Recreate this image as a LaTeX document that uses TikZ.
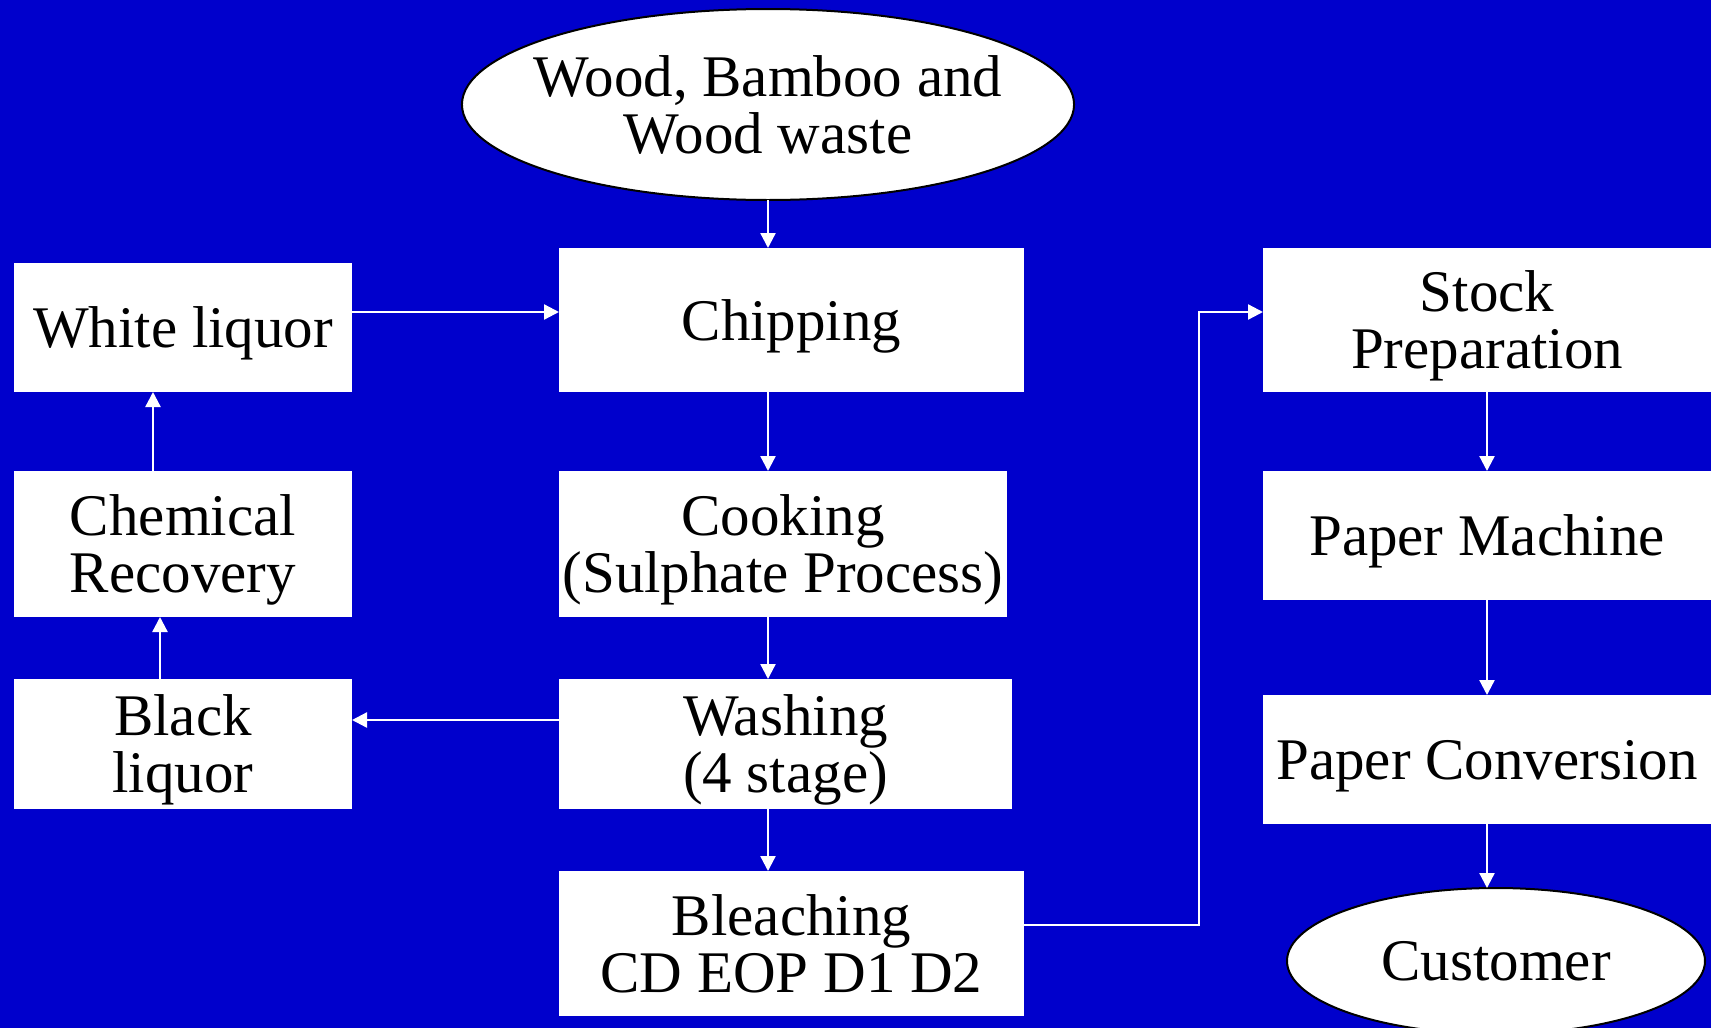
\documentclass[tikz,border=0pt]{standalone}
\usepackage{fontspec}
\setmainfont{Liberation Serif}
\usepackage{tikz}
\usetikzlibrary{arrows.meta,positioning,shapes.geometric}
\definecolor{slideblue}{RGB}{0,0,204}

\begin{document}
\begin{tikzpicture}[
    x=1pt, y=-1pt,
    >={Triangle[length=15pt,width=15pt]},
    font=\fontsize{59}{57}\selectfont,
    step box/.style={
		rectangle,
		fill=white,
		text centered,
		align=center,
		text depth=0pt,
		inner sep=0pt,
		outer sep=0pt
	},
	end oval/.style={
		ellipse,
		draw=black,
		line width=2pt,
		fill=white,
		align=center,
		inner sep=0pt,
		outer sep=0pt
	},
	flow/.style={
		draw=white,
		line width=2.3pt
	}
  ]
  % background and page size
  \fill [slideblue] (0,0) rectangle (1711,1028);
  \useasboundingbox (0,0) rectangle (1711,1028);
  \clip (0,0) rectangle (1711,1028);

  % the blocks
  \node [end oval, inner xsep=-18pt, minimum width=608pt, minimum height=191pt] (wood) at (768,104.5)
    {Wood, Bamboo and\\Wood waste};

  \node [step box, minimum width=465pt, minimum height=144pt] (chip) at (791.5,320) {Chipping};
  \node [step box, minimum width=448pt, minimum height=146pt] (cook) at (783,544)
    {Cooking\\(Sulphate Process)};
  \node [step box, minimum width=453pt, minimum height=130pt] (wash) at (785.5,744)
    {Washing\\(4 stage)};
  \node [step box, minimum width=465pt, minimum height=145pt] (bleach) at (791.5,943.5)
    {Bleaching\\CD EOP D1 D2};

  \node [step box, minimum width=338pt, minimum height=129pt] (white) at (183,327.5) {White liquor};
  \node [step box, minimum width=338pt, minimum height=146pt] (chem) at (183,544)
    {Chemical\\Recovery};
  \node [step box, minimum width=338pt, minimum height=130pt] (black) at (183,744)
    {Black\\liquor};

  \node [step box, minimum width=448pt, minimum height=144pt] (stock) at (1487,320)
    {Stock\\Preparation};
  \node [step box, minimum width=448pt, minimum height=129pt] (machine) at (1487,535.5)
    {Paper Machine};
  \node [step box, minimum width=448pt, minimum height=129pt] (conv) at (1487,759.5)
    {Paper Conversion};
  \node [end oval, minimum width=418pt, minimum height=146pt] (cust) at (1496,961) {Customer};

  % helper coordinates for the lines
  \coordinate (upper) at (0,312);
  \coordinate (lower) at (0,720);
  \coordinate (bottom) at (0,925);
  \coordinate (turn) at (1199,0);

  % the arrows
  \draw [flow,->] (wood.south) -- (wood.south |- chip.north);
  \draw [flow,->] (wood.south |- chip.south) -- (wood.south |- cook.north);
  \draw [flow,->] (wood.south |- cook.south) -- (wood.south |- wash.north);
  \draw [flow,->] (wood.south |- wash.south) -- (wood.south |- bleach.north);
  \draw [flow,->] (white.east |- upper) -- (chip.west |- upper);
  \draw [flow,->] (wash.west |- lower) -- (black.east |- lower);
  \draw [flow,->] ([xshift=-23pt]black.north) -- ([xshift=-23pt]chem.south);
  \draw [flow,->] ([xshift=-30pt]chem.north) -- ([xshift=-30pt]white.south);
  \draw [flow,->] (bleach.east |- bottom) -- (turn |- bottom) -- (turn |- upper) -- (stock.west |- upper);
  \draw [flow,->] (stock.south) -- (machine.north);
  \draw [flow,->] (machine.south) -- (conv.north);
  \draw [flow,->] (conv.south) -- (conv.south |- cust.north);

\end{tikzpicture}
\end{document}
